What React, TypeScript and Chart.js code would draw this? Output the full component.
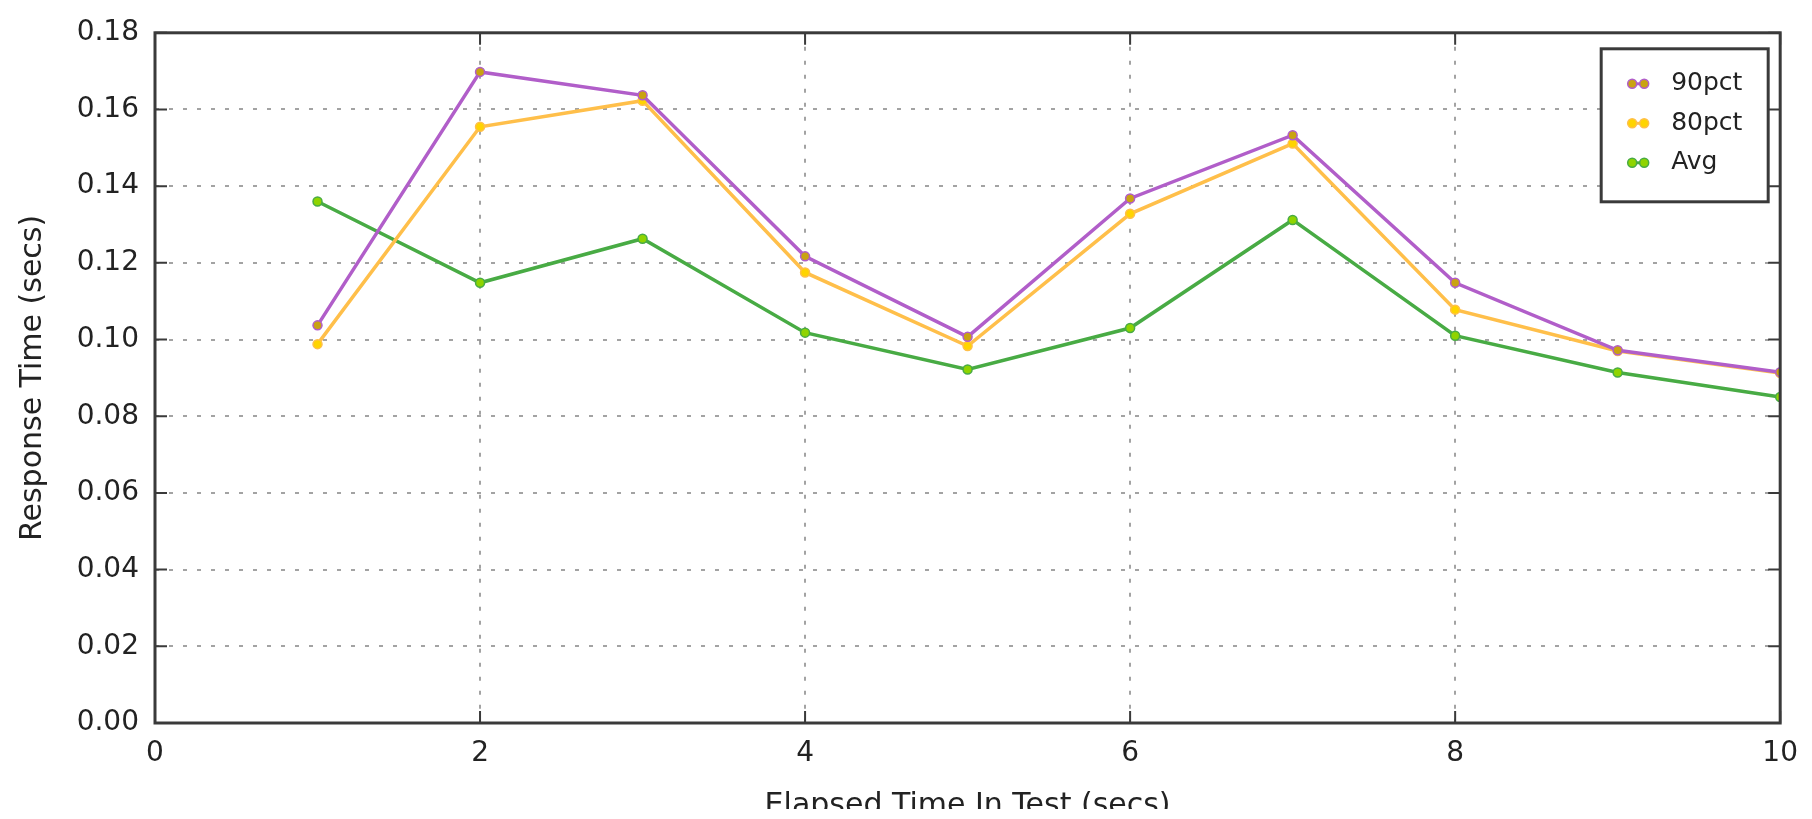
import React, { useEffect, useRef } from "react";
import { Chart, registerables } from "chart.js";

Chart.register(...registerables);

// ---- data ----
const elapsedSecs = [1, 2, 3, 4, 5, 6, 7, 8, 9, 10];
const pct90 = [0.1037, 0.1698, 0.1637, 0.1217, 0.1007, 0.1368, 0.1533, 0.1148, 0.0972, 0.0915];
const pct80 = [0.0988, 0.1555, 0.1623, 0.1175, 0.0983, 0.1328, 0.1511, 0.1078, 0.097, 0.0913];
const avgResp = [0.136, 0.1148, 0.1263, 0.1018, 0.0922, 0.103, 0.1312, 0.101, 0.0914, 0.085];
const seriesLabels = ["90pct", "80pct", "Avg"];
const xTickValues = [0, 2, 4, 6, 8, 10];
const yTickValues = [0, 0.02, 0.04, 0.06, 0.08, 0.1, 0.12, 0.14, 0.16, 0.18];
const xTitle = "Elapsed Time In Test (secs)";
const yTitle = "Response Time (secs)";

// ---- style ----
const FONT = "'DejaVu Sans', sans-serif";
const FRAME = "#3a3a3a";
const TEXT = "#222222";
const lineColors = ["#b15ec9", "#ffbf4a", "#48ab44"];
const markerFills = ["#c9a312", "#ffd400", "#8fd400"];

const toXY = (vals: number[]) => elapsedSecs.map((x, i) => ({ x, y: vals[i] }));

const framePlugin = {
  id: "frameAndTicks",
  afterDatasetsDraw(chart: any) {
    const { ctx, chartArea, scales } = chart;
    const { left, right, top, bottom } = chartArea;
    ctx.save();
    ctx.strokeStyle = FRAME;
    ctx.lineWidth = 2;
    const tl = 12;
    ctx.beginPath();
    for (const v of yTickValues) {
      const p = scales.y.getPixelForValue(v);
      ctx.moveTo(left, p);
      ctx.lineTo(left + tl, p);
      ctx.moveTo(right, p);
      ctx.lineTo(right - tl, p);
    }
    for (const v of xTickValues) {
      const p = scales.x.getPixelForValue(v);
      ctx.moveTo(p, bottom);
      ctx.lineTo(p, bottom - tl);
      ctx.moveTo(p, top);
      ctx.lineTo(p, top + tl);
    }
    ctx.stroke();
    ctx.lineWidth = 3;
    ctx.strokeRect(left, top, right - left, bottom - top);
    ctx.restore();
  },
};

const legendPlugin = {
  id: "boxLegend",
  afterDraw(chart: any) {
    const { ctx, chartArea } = chart;
    const bw = 167;
    const bh = 153;
    const bx = chartArea.right - 12 - bw;
    const by = chartArea.top + 16;
    ctx.save();
    ctx.fillStyle = "#ffffff";
    ctx.fillRect(bx, by, bw, bh);
    ctx.strokeStyle = FRAME;
    ctx.lineWidth = 3;
    ctx.strokeRect(bx, by, bw, bh);
    chart.data.datasets.forEach((ds: any, i: number) => {
      const y = by + 35 + i * 39.5;
      const x1 = bx + 31;
      const x2 = bx + 43;
      ctx.strokeStyle = ds.borderColor;
      ctx.lineWidth = 3;
      ctx.beginPath();
      ctx.moveTo(x1, y);
      ctx.lineTo(x2, y);
      ctx.stroke();
      for (const cx of [x1, x2]) {
        ctx.beginPath();
        ctx.arc(cx, y, 4.5, 0, Math.PI * 2);
        ctx.fillStyle = ds.pointBackgroundColor;
        ctx.fill();
        ctx.lineWidth = 1.5;
        ctx.strokeStyle = ds.pointBorderColor;
        ctx.stroke();
      }
      ctx.fillStyle = TEXT;
      ctx.font = `25px ${FONT}`;
      ctx.textAlign = "left";
      ctx.textBaseline = "middle";
      ctx.fillText(ds.label, bx + 70, y);
    });
    ctx.restore();
  },
};

export default function App() {
  const canvasRef = useRef<HTMLCanvasElement | null>(null);

  useEffect(() => {
    if (!canvasRef.current) return;
    const seriesData = [pct90, pct80, avgResp];
    const chart = new Chart(canvasRef.current, {
      type: "line",
      data: {
        datasets: seriesData.map((vals, i) => ({
          label: seriesLabels[i],
          data: toXY(vals),
          borderColor: lineColors[i],
          backgroundColor: lineColors[i],
          borderWidth: 3.5,
          pointRadius: 4.5,
          pointBorderWidth: 1.5,
          pointBackgroundColor: markerFills[i],
          pointBorderColor: lineColors[i],
          tension: 0,
          fill: false,
        })),
      },
      options: {
        animation: false,
        responsive: false,
        layout: { padding: { top: 26, right: 23, left: 0, bottom: 0 } },
        plugins: {
          legend: { display: false },
          tooltip: { enabled: false },
          title: { display: false },
        },
        scales: {
          x: {
            type: "linear",
            min: 0,
            max: 10,
            afterFit: (s: any) => {
              s.height = 117;
            },
            afterBuildTicks: (s: any) => {
              s.ticks = xTickValues.map((v) => ({ value: v }));
            },
            ticks: {
              color: TEXT,
              font: { family: FONT, size: 28 },
              padding: 14,
              maxRotation: 0,
              callback: (v: any) => String(v),
            },
            grid: {
              color: "rgba(0,0,0,0.36)",
              lineWidth: 2,
              drawTicks: false,
            },
            border: { display: false, dash: [4, 10] },
            title: {
              display: true,
              text: xTitle,
              color: TEXT,
              font: { family: FONT, size: 30 },
              padding: { top: 0, bottom: 15.5 },
            },
          },
          y: {
            type: "linear",
            min: 0,
            max: 0.18,
            afterFit: (s: any) => {
              s.width = 155;
            },
            afterBuildTicks: (s: any) => {
              s.ticks = yTickValues.map((v) => ({ value: v }));
            },
            ticks: {
              color: TEXT,
              font: { family: FONT, size: 28 },
              padding: 16,
              callback: (v: any) => Number(v).toFixed(2),
            },
            grid: {
              color: "rgba(0,0,0,0.36)",
              lineWidth: 2,
              drawTicks: false,
            },
            border: { display: false, dash: [4, 10] },
            title: {
              display: true,
              text: yTitle,
              color: TEXT,
              font: { family: FONT, size: 30 },
              padding: { top: 15, bottom: 0 },
            },
          },
        },
      },
      plugins: [framePlugin, legendPlugin],
    });
    return () => chart.destroy();
  }, []);

  return (
    <div
      style={{
        position: "absolute",
        left: 0,
        top: 0,
        width: 1812,
        height: 809,
        overflow: "hidden",
        background: "#ffffff",
      }}
    >
      <canvas ref={canvasRef} width={1812} height={840} style={{ display: "block" }} />
    </div>
  );
}
